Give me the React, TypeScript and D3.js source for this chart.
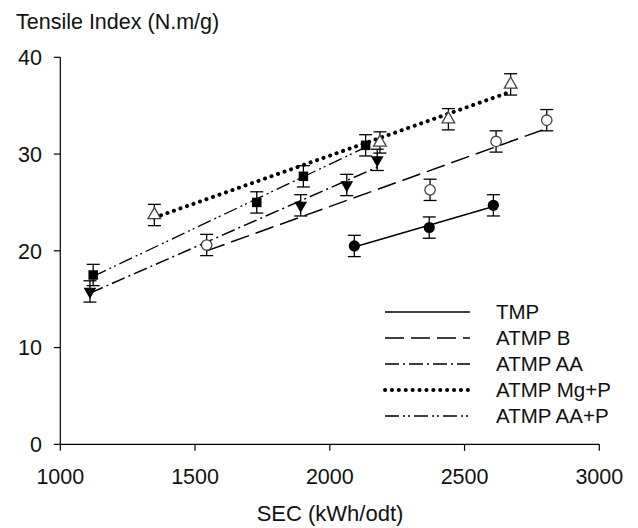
import React from "react";
import * as d3 from "d3";

const seriesNames = ["TMP", "ATMP B", "ATMP AA", "ATMP Mg+P", "ATMP AA+P"];
const tmpX = [2091, 2369, 2607];
const tmpY = [20.5, 22.4, 24.7];
const bX = [1543, 2372, 2617, 2805];
const bY = [20.6, 26.3, 31.3, 33.5];
const aaX = [1110, 1892, 2063, 2176];
const aaY = [15.8, 24.7, 26.8, 29.4];
const mgX = [1349, 2186, 2440, 2671];
const mgY = [23.7, 31.2, 33.6, 37.2];
const aapX = [1122, 1729, 1902, 2133];
const aapY = [17.5, 25.0, 27.7, 30.9];
const errBar = 1.1;
const xTicks = [1000, 1500, 2000, 2500, 3000];
const yTicks = [0, 10, 20, 30, 40];

const W = 638;
const H = 528;
const FONT = "'Liberation Sans', Arial, sans-serif";

type Style = { dash: string; width: number; cap: string; marker: string };
const styles: Style[] = [
  { dash: "", width: 1.6, cap: "butt", marker: "circleFilled" },
  { dash: "19,7", width: 1.5, cap: "butt", marker: "circleOpen" },
  { dash: "14,4,2,4", width: 1.5, cap: "butt", marker: "triDown" },
  { dash: "0.1,6.8", width: 4, cap: "round", marker: "triOpen" },
  { dash: "14,4,2,3,2,4", width: 1.3, cap: "butt", marker: "square" },
];

function regression(xs: number[], ys: number[]) {
  const mx = d3.mean(xs)!;
  const my = d3.mean(ys)!;
  let sxx = 0, sxy = 0;
  xs.forEach((x, i) => { sxx += (x - mx) * (x - mx); sxy += (x - mx) * (ys[i] - my); });
  const b = sxy / sxx;
  const a = my - b * mx;
  const x0 = d3.min(xs)!, x1 = d3.max(xs)!;
  return [[x0, a + b * x0], [x1, a + b * x1]] as [number, number][];
}

function Marker({ kind, cx, cy }: { kind: string; cx: number; cy: number }) {
  if (kind === "circleFilled") return <circle cx={cx} cy={cy} r={5.6} fill="#000" />;
  if (kind === "circleOpen") return <circle cx={cx} cy={cy} r={5.2} fill="#fff" stroke="#444" strokeWidth={1.3} />;
  if (kind === "square") return <path d={d3.symbol(d3.symbolSquare, 90)()!} transform={`translate(${cx},${cy})`} fill="#000" />;
  if (kind === "triDown") return <path d={d3.symbol(d3.symbolTriangle, 70)()!} transform={`translate(${cx},${cy}) rotate(180)`} fill="#000" />;
  return <path d={d3.symbol(d3.symbolTriangle, 70)()!} transform={`translate(${cx},${cy})`} fill="#fff" stroke="#444" strokeWidth={1.3} />;
}

export default function App() {
  const x = d3.scaleLinear().domain([1000, 3000]).range([60.3, 599.3]);
  const y = d3.scaleLinear().domain([0, 40]).range([444.3, 57.3]);
  const data = [
    [tmpX, tmpY], [bX, bY], [aaX, aaY], [mgX, mgY], [aapX, aapY],
  ];
  const line = d3.line<[number, number]>().x((d) => x(d[0])).y((d) => y(d[1]));
  const legendY = [312, 338, 364, 390, 416];

  return (
    <svg width={W} height={H} style={{ position: "absolute", left: 0, top: 0, background: "#fff" }} fontFamily={FONT}>
      <rect width={W} height={H} fill="#fff" />
      {/* axes */}
      <line x1={x(1000)} x2={x(3000)} y1={y(0)} y2={y(0)} stroke="#000" strokeWidth={1.2} />
      <line x1={x(1000)} x2={x(1000)} y1={y(0)} y2={y(40)} stroke="#000" strokeWidth={1.2} />
      {xTicks.map((t) => (
        <g key={"x" + t}>
          <line x1={x(t)} x2={x(t)} y1={y(0)} y2={y(0) + 6.5} stroke="#000" strokeWidth={1.2} />
          <text x={x(t)} y={484} textAnchor="middle" fontSize={21.5} fill="#111">{t}</text>
        </g>
      ))}
      {yTicks.map((t) => (
        <g key={"y" + t}>
          <line x1={x(1000) - 6.5} x2={x(1000)} y1={y(t)} y2={y(t)} stroke="#000" strokeWidth={1.2} />
          <text x={42} y={y(t)} dy="0.36em" textAnchor="end" fontSize={21.5} fill="#111">{t}</text>
        </g>
      ))}
      <text x={16} y={29} fontSize={21.5} fill="#111">Tensile Index (N.m/g)</text>
      <text x={330} y={520.5} textAnchor="middle" fontSize={22} fill="#111">SEC (kWh/odt)</text>

      {/* regression lines */}
      {data.map(([xs, ys], i) => (
        <path key={"l" + i} d={line(regression(xs, ys))!} fill="none" stroke="#000"
          strokeWidth={styles[i].width} strokeDasharray={styles[i].dash || undefined}
          strokeLinecap={styles[i].cap as any} />
      ))}

      {/* error bars and markers */}
      {data.map(([xs, ys], i) => (
        <g key={"m" + i}>
          {xs.map((xv, j) => {
            const cx = x(xv);
            const top = y(ys[j] + errBar);
            const bot = y(ys[j] - errBar);
            return (
              <g key={j}>
                <line x1={cx} x2={cx} y1={top} y2={bot} stroke="#000" strokeWidth={1.3} />
                <line x1={cx - 6.5} x2={cx + 6.5} y1={top} y2={top} stroke="#000" strokeWidth={1.3} />
                <line x1={cx - 6.5} x2={cx + 6.5} y1={bot} y2={bot} stroke="#000" strokeWidth={1.3} />
                <Marker kind={styles[i].marker} cx={cx} cy={y(ys[j])} />
              </g>
            );
          })}
        </g>
      ))}

      {/* legend */}
      {seriesNames.map((name, i) => (
        <g key={"lg" + i}>
          <line x1={385} x2={470} y1={legendY[i]} y2={legendY[i]} stroke="#000"
            strokeWidth={styles[i].width} strokeDasharray={styles[i].dash || undefined}
            strokeLinecap={styles[i].cap as any} />
          <text x={496} y={legendY[i]} dy="0.36em" fontSize={20.5} fill="#111">{name}</text>
        </g>
      ))}
    </svg>
  );
}
